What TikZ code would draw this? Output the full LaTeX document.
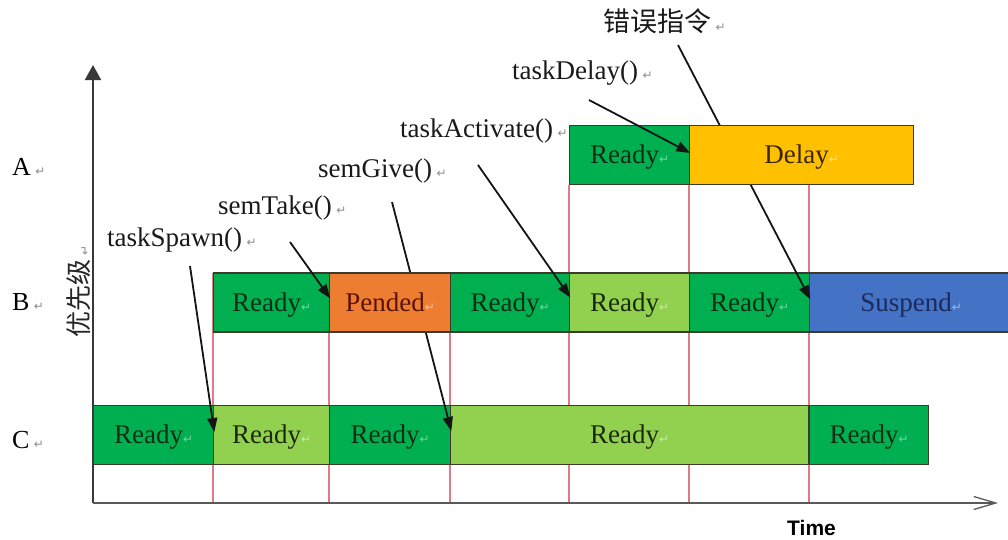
\documentclass[tikz,border=0pt]{standalone}
\usepackage{fontspec}
\setmainfont{Liberation Serif}
\newfontfamily\cjk{Noto Sans CJK SC}
\newfontfamily\markfont{DejaVu Sans}
\newfontfamily\timefont{Liberation Sans}
\usetikzlibrary{arrows.meta}

\definecolor{readyD}{HTML}{00B050}
\definecolor{readyL}{HTML}{92D050}
\definecolor{pended}{HTML}{ED7D31}
\definecolor{delay}{HTML}{FFC000}
\definecolor{suspend}{HTML}{4472C4}
\definecolor{edge}{HTML}{3B3B2B}
\definecolor{tickred}{HTML}{E07A85}
\definecolor{txtD}{HTML}{0D2E14}
\definecolor{txtL}{HTML}{1A2A0A}
\definecolor{txtP}{HTML}{5B1208}
\definecolor{txtY}{HTML}{3A2500}
\definecolor{txtS}{HTML}{1C2A5E}

% small paragraph mark that follows each text
\newcommand\parmark[1][black!45]{{\color{#1}\fontsize{12}{12}\selectfont\markfont\char"21B5}}

\tikzset{
  state/.style={draw=edge, line width=1.3pt, minimum height=59pt, inner sep=0pt,
                text height=17pt, text depth=0pt,
                anchor=west, font=\fontsize{27}{30}\selectfont},
  rdark/.style={state, fill=readyD, text=txtD},
  rlight/.style={state, fill=readyL, text=txtL},
  rpend/.style={state, fill=pended, text=txtP},
  rdelay/.style={state, fill=delay, text=txtY},
  rsusp/.style={state, fill=suspend, text=txtS},
  note/.style={anchor=base west, inner sep=0pt, font=\fontsize{27}{30}\selectfont, text=black!90},
  rowlabel/.style={anchor=base west, inner sep=0pt, font=\fontsize{26}{30}\selectfont},
  callout/.style={line width=1.8pt, draw=black!92, -{Triangle[length=14pt,width=10pt]}},
  tickline/.style={line width=1.2pt, draw=tickred},
  yaxis/.style={line width=2pt, draw=black!78, -{Triangle[length=15pt,width=16pt]}},
  xaxis/.style={line width=1.3pt, draw=black!65, -{Straight Barb[length=22pt,width=13pt]}},
}

\begin{document}
\begin{tikzpicture}[x=1pt,y=-1pt]
\useasboundingbox (0,0) rectangle (1008,539);

% time markers
\foreach \t in {213,329,450}{\draw[tickline] (\t,273) -- (\t,503);}
\foreach \t in {569,689,809}{\draw[tickline] (\t,185) -- (\t,503);}

% axes
\coordinate (O) at (93,503);
\coordinate (ytop) at (93,65);
\coordinate (xend) at (998,503);
\draw[yaxis] (O) -- (ytop);
\draw[xaxis] (O) -- (xend);
\node[font=\timefont\bfseries\fontsize{21}{24}\selectfont, anchor=base west, inner sep=0pt] (time) at (787,535) {Time};
\node[rotate=90, anchor=west, inner sep=0pt, font=\fontsize{26}{30}\selectfont\cjk, text=black!85] (prio) at (79,338) {优先级\,\parmark};

% priority rows
\node[rowlabel] (rowA) at (12,175) {A\,\parmark};
\node[rowlabel] (rowB) at (12,310) {B\,\parmark};
\node[rowlabel] (rowC) at (12,448) {C\,\parmark};

% task C
\node[rdark,  minimum width=120pt] (c1) at (93,435)  {Ready\parmark[readyD!55!white]};
\node[rlight, minimum width=116pt] (c2) at (213,435) {Ready\parmark[readyL!50!white]};
\node[rdark,  minimum width=121pt] (c3) at (329,435) {Ready\parmark[readyD!55!white]};
\node[rlight, minimum width=358pt] (c4) at (450,435) {Ready\parmark[readyL!50!white]};
\node[rdark,  minimum width=119pt] (c5) at (809,435) {Ready\parmark[readyD!55!white]};

% semGive runs behind the Pended block
\node[note] (give) at (318,177) {semGive()\,\parmark};
\coordinate (giveS) at (392,202);
\draw[callout] (giveS) -- ([yshift=4pt]c3.east);

% task B
\node[rdark,  minimum width=116pt] (b1) at (213,302.5) {Ready\parmark[readyD!55!white]};
\node[rpend,  minimum width=121pt] (b2) at (329,302.5) {Pended\parmark[pended!50!white]};
\node[rdark,  minimum width=119pt] (b3) at (450,302.5) {Ready\parmark[readyD!55!white]};
\node[rlight, minimum width=120pt] (b4) at (569,302.5) {Ready\parmark[readyL!50!white]};
\node[rdark,  minimum width=120pt] (b5) at (689,302.5) {Ready\parmark[readyD!55!white]};
\node[rsusp,  minimum width=203pt] (b6) at (809,302.5) {Suspend\parmark[suspend!50!white]};

% error instruction runs behind the Delay block
\node[note] (err) at (603,31) {\cjk 错误指令\,\parmark};
\coordinate (errS) at (678,45);
\draw[callout] (errS) -- ([yshift=3pt]b5.east);

% task A
\node[rdark,  minimum width=120pt] (a1) at (569,155) {Ready\parmark[readyD!55!white]};
\node[rdelay, minimum width=224pt] (a2) at (689,155) {Delay\parmark[delay!50!white]};

% remaining calls
\node[note] (spawn) at (107,246) {taskSpawn()\,\parmark};
\node[note] (take)  at (218,214) {semTake()\,\parmark};
\node[note] (act)   at (400,137) {taskActivate()\,\parmark};
\node[note] (delayc) at (512,79) {taskDelay()\,\parmark};

\coordinate (spawnS) at (190,266);
\coordinate (takeS)  at (290,242);
\coordinate (actS)   at (478,165);
\coordinate (delayS) at (589,100);

\draw[callout] (spawnS) -- ([yshift=3pt]c1.east);
\draw[callout] (takeS)  -- ([yshift=4pt]b1.east);
\draw[callout] (actS)   -- ([yshift=5pt]b3.east);
\draw[callout] (delayS) -- ([yshift=2pt]a1.east);
\end{tikzpicture}
\end{document}
